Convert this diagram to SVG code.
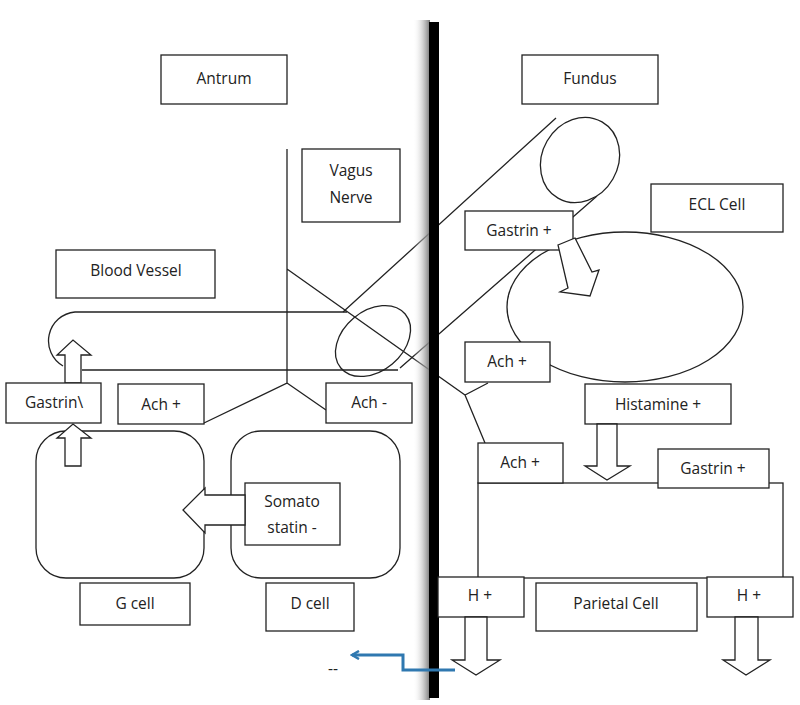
<svg xmlns="http://www.w3.org/2000/svg" width="800" height="705" viewBox="0 0 800 705">
<defs>
<style>
.b{fill:#fff;stroke:#222;stroke-width:1.3}
.l{fill:none;stroke:#222;stroke-width:1.3}
text{font-family:"Open Sans","Liberation Sans",sans-serif;font-size:15.5px;fill:#222;text-anchor:middle}
</style>
<linearGradient id="sh" x1="0" x2="1"><stop offset="0" stop-color="#fff" stop-opacity="0"/><stop offset="1" stop-color="#777"/></linearGradient>
<marker id="bh" markerWidth="10" markerHeight="10" refX="8" refY="5" orient="auto" markerUnits="userSpaceOnUse"><path d="M1,1 L8,5 L1,9" fill="none" stroke="#2f78b0" stroke-width="2.5"/></marker>
</defs>
<rect width="800" height="705" fill="#fff"/>
<g id="connectors">
<path class="l" d="M287,149 V383 L204,423 M287,383 L326,410 M287,269 L465,395 L488,383 M465,395 L485,443"/>
<path class="l" d="M347,312 H75 A29,29 0 0 0 63,366 M82,370 H398"/>
<path class="l" d="M343,312 L556,118 M400,368 L597,196"/>
<ellipse class="l" cx="373" cy="341" rx="42" ry="30" transform="rotate(-40 373 341)"/>
<ellipse class="b" cx="580" cy="160" rx="38" ry="44" transform="rotate(30 580 160)"/>
<path class="b" d="M65,383 V355 H57 L73,340 L91,355 H81 V383 Z"/>
</g>
<rect x="413" y="20" width="17" height="680" fill="url(#sh)"/>
<rect x="429" y="22" width="10" height="676" fill="#000"/>
<g id="antrum"><rect class="b" x="161" y="55" width="126" height="49"/><text x="224" y="84">Antrum</text></g>
<g id="fundus"><rect class="b" x="522" y="55" width="136" height="49"/><text x="590" y="84">Fundus</text></g>
<g id="vagus"><rect class="b" x="302" y="149" width="98" height="73"/><text x="351" y="176">Vagus</text><text x="351" y="203">Nerve</text></g>
<g id="blood"><rect class="b" x="56" y="250" width="159" height="48"/><text x="136" y="276">Blood Vessel</text></g>
<g id="gastrinL"><rect class="b" x="6" y="383" width="95" height="40"/><text x="54" y="408">Gastrin\</text></g>
<g id="achL"><rect class="b" x="118" y="384" width="86" height="40"/><text x="161" y="410">Ach +</text></g>
<g id="achM"><rect class="b" x="326" y="383" width="86" height="40"/><text x="369" y="408">Ach -</text></g>
<g id="gcell"><rect class="b" x="36" y="431" width="168" height="147" rx="30"/></g>
<g id="dcell"><rect class="b" x="231" y="431" width="169" height="147" rx="30"/></g>
<g id="somato"><rect class="b" x="245" y="483" width="95" height="62"/><text x="292" y="507">Somato</text><text x="292" y="533">statin -</text></g>
<g id="gcellLabel"><rect class="b" x="80" y="583" width="110" height="42"/><text x="135" y="609">G cell</text></g>
<g id="dcellLabel"><rect class="b" x="266" y="583" width="88" height="48"/><text x="310" y="609">D cell</text></g>
<g id="ecl"><ellipse class="b" cx="625" cy="307" rx="118" ry="75"/></g>
<g id="gastrinU"><rect class="b" x="465" y="211" width="108" height="39"/><text x="519" y="236">Gastrin +</text></g>
<g id="eclLabel"><rect class="b" x="651" y="184" width="132" height="48"/><text x="717" y="210">ECL Cell</text></g>
<g id="achR"><rect class="b" x="465" y="342" width="85" height="40"/><text x="507" y="367">Ach +</text></g>
<g id="hist"><rect class="b" x="585" y="384" width="146" height="40"/><text x="658" y="410">Histamine +</text></g>
<g id="parietal"><rect class="b" x="478" y="483" width="305" height="95"/></g>
<g id="achR2"><rect class="b" x="478" y="443" width="85" height="40"/><text x="520" y="468">Ach +</text></g>
<g id="gastrinR"><rect class="b" x="658" y="449" width="111" height="39"/><text x="713" y="474">Gastrin +</text></g>
<g id="hL"><rect class="b" x="438" y="577" width="86" height="40"/><text x="480" y="601">H +</text></g>
<g id="parietalLabel"><rect class="b" x="536" y="583" width="161" height="48"/><text x="616" y="609">Parietal Cell</text></g>
<g id="hR"><rect class="b" x="707" y="577" width="86" height="40"/><text x="749" y="601">H +</text></g>
<g id="arrows">
<path class="b" d="M65,466 V438 H57 L73,424 L91,438 H81 V466 Z"/>
<path class="b" d="M245,495 H205 V488 L183,510 L205,533 V525 H245 Z"/>
<path class="b" d="M597,424 V466 H585 L607,480 L630,466 H617 V424 Z"/>
<path class="b" d="M465,617 V660 H452 L476,675 L500,660 H487 V617 Z"/>
<path class="b" d="M735,617 V660 H723 L746,675 L770,660 H758 V617 Z"/>
<path class="b" d="M558,245 L575,238 L592,272 L599,270 L590,296 L560,292 L568,288 Z"/>
<path d="M455,670 H403 V655 H352" fill="none" stroke="#2f78b0" stroke-width="3" marker-end="url(#bh)"/>
</g>
<text x="333" y="674">--</text>
</svg>
